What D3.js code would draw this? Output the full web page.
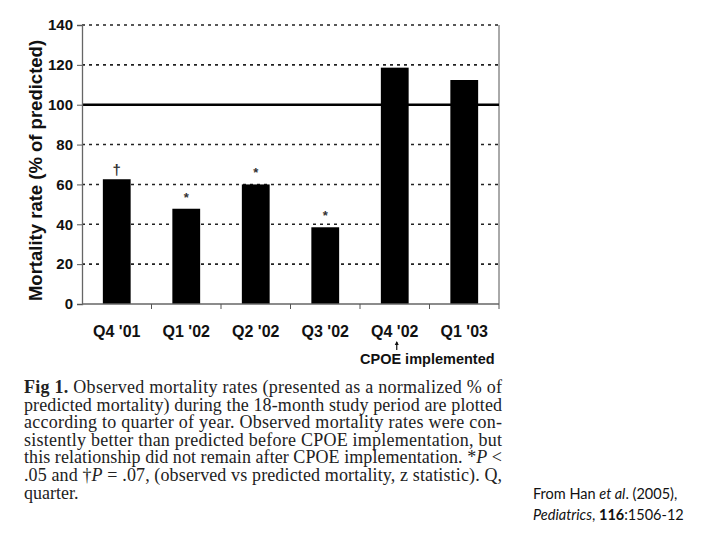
<!DOCTYPE html>
<html>
<head>
<meta charset="utf-8">
<title>Mortality rate by quarter</title>
<style>
  body { margin: 0; background: #fff; }
  svg text { font-family: "Liberation Sans", Arial, sans-serif; }
</style>
</head>
<body>
<script src="https://d3js.org/d3.v7.min.js"></script>
<script>
// data
var quarters = ["Q4 '01", "Q1 '02", "Q2 '02", "Q3 '02", "Q4 '02", "Q1 '03"];
var mortality = [62.6, 47.8, 60, 38.5, 118.6, 112.4];
var marks = ["\u2020", "*", "*", "*", "", ""];
var yTicks = [0, 20, 40, 60, 80, 100, 120, 140];
var reference = 100;

const W = 720, H = 540;
const plot = { left: 82, right: 499, top: 25, bottom: 304 };

const svg = d3.select("body").append("svg")
    .attr("width", W)
    .attr("height", H);

var x = d3.scaleBand()
    .domain(quarters)
    .range([plot.left, plot.right])
    .paddingInner(0.6)
    .paddingOuter(0.3);

var y = d3.scaleLinear()
    .domain([0, 140])
    .range([plot.bottom, plot.top]);

// dotted grid
svg.append("g")
    .selectAll("line")
    .data(yTicks.filter(function(d) { return d > 0 && d !== reference; }))
    .enter().append("line")
    .attr("x1", plot.left).attr("x2", plot.right)
    .attr("y1", function(d) { return y(d); })
    .attr("y2", function(d) { return y(d); })
    .attr("stroke", "#222")
    .attr("stroke-width", 1.6)
    .attr("stroke-dasharray", "3,4");

// right border
svg.append("line")
    .attr("x1", plot.right).attr("x2", plot.right)
    .attr("y1", y(140)).attr("y2", y(0))
    .attr("stroke", "#555").attr("stroke-width", 1);

// 100% reference line
svg.append("line")
    .attr("x1", plot.left).attr("x2", plot.right)
    .attr("y1", y(reference)).attr("y2", y(reference))
    .attr("stroke", "#000").attr("stroke-width", 2.6);

// bars
svg.append("g")
    .selectAll("rect")
    .data(mortality)
    .enter().append("rect")
    .attr("x", function(d, i) { return x(quarters[i]); })
    .attr("y", function(d) { return y(d); })
    .attr("width", x.bandwidth())
    .attr("height", function(d) { return y(0) - y(d); })
    .attr("fill", "#000");

// significance marks
svg.append("g")
    .selectAll("text")
    .data(marks)
    .enter().append("text")
    .attr("x", function(d, i) { return x(quarters[i]) + x.bandwidth() / 2; })
    .attr("y", function(d, i) { return y(mortality[i]) - (d === "*" ? 7 : 4); })
    .attr("text-anchor", "middle")
    .attr("font-size", function(d) { return d === "*" ? 13 : 15; })
    .attr("font-weight", "bold")
    .attr("fill", "#333")
    .text(function(d) { return d; });

// y axis
var yAxis = svg.append("g")
    .attr("transform", "translate(" + plot.left + ",0)")
    .call(d3.axisLeft(y).tickValues(yTicks).tickSize(5).tickPadding(4));
yAxis.select(".domain").attr("stroke", "#666").attr("stroke-width", 1.3);
yAxis.selectAll(".tick line").attr("stroke", "#555");
yAxis.selectAll(".tick text")
    .attr("font-size", 15).attr("font-weight", "bold")
    .attr("font-family", "Liberation Sans, Arial, sans-serif")
    .attr("fill", "#111");

// x axis: ticks between bands, labels centred under bars
var step = x.step();
var bounds = quarters.map(function(q) { return x(q) + x.bandwidth() + step * x.paddingInner() / 2; });
var xAxis = svg.append("g");
xAxis.append("line")
    .attr("x1", plot.left).attr("x2", plot.right)
    .attr("y1", y(0)).attr("y2", y(0))
    .attr("stroke", "#666").attr("stroke-width", 1.3);
xAxis.selectAll("line.tk")
    .data(bounds)
    .enter().append("line")
    .attr("class", "tk")
    .attr("x1", function(d) { return d; }).attr("x2", function(d) { return d; })
    .attr("y1", y(0)).attr("y2", y(0) + 5)
    .attr("stroke", "#555");
xAxis.selectAll("text")
    .data(quarters)
    .enter().append("text")
    .attr("x", function(d) { return x(d) + x.bandwidth() / 2; })
    .attr("y", 337)
    .attr("text-anchor", "middle")
    .attr("font-size", 16).attr("font-weight", "bold")
    .attr("fill", "#111")
    .text(function(d) { return d; });

// CPOE annotation: small arrow under Q4 '02, label to its right
var cx = x(quarters[4]) + x.bandwidth() / 2 + 2;
svg.append("line")
    .attr("x1", cx).attr("x2", cx)
    .attr("y1", 342).attr("y2", 350)
    .attr("stroke", "#111").attr("stroke-width", 1.2);
svg.append("path")
    .attr("d", "M" + (cx - 2) + ",345 L" + cx + ",341 L" + (cx + 2) + ",345 Z")
    .attr("fill", "#111");
svg.append("text")
    .attr("x", 360).attr("y", 364)
    .attr("font-size", 14.5).attr("font-weight", "bold")
    .attr("fill", "#111")
    .text("CPOE implemented");

// y title
svg.append("text")
    .attr("transform", "translate(42," + ((plot.top + plot.bottom) / 2 + 6) + ") rotate(-90)")
    .attr("text-anchor", "middle")
    .attr("font-size", 18.5).attr("font-weight", "bold")
    .attr("fill", "#111")
    .text("Mortality rate (% of predicted)");

// caption
var captionLines = [
  [["Fig 1.", "b"], [" Observed mortality rates (presented as a normalized % of", ""]],
  [["predicted mortality) during the 18-month study period are plotted", ""]],
  [["according to quarter of year. Observed mortality rates were con-", ""]],
  [["sistently better than predicted before CPOE implementation, but", ""]],
  [["this relationship did not remain after CPOE implementation. *", ""], ["P", "i"], [" <", ""]],
  [[".05 and \u2020", ""], ["P", "i"], [" = .07, (observed vs predicted mortality, z statistic). Q,", ""]],
  [["quarter.", ""]]
];
var cap = svg.append("g");
captionLines.forEach(function(line, i) {
  var t = cap.append("text")
      .attr("x", 24)
      .attr("y", 393 + i * 17.6)
      .attr("font-family", "Liberation Serif, 'DejaVu Serif', serif")
      .attr("font-size", 18)
      .attr("fill", "#222")
      .attr("xml:space", "preserve");
  if (i < captionLines.length - 1) {
    t.attr("textLength", 478).attr("lengthAdjust", "spacing");
  }
  line.forEach(function(seg) {
    t.append("tspan")
        .attr("font-family", "Liberation Serif, 'DejaVu Serif', serif")
        .attr("font-weight", seg[1] === "b" ? "bold" : null)
        .attr("font-style", seg[1] === "i" ? "italic" : null)
        .text(seg[0]);
  });
});

// citation
var cite1 = svg.append("text").attr("x", 533).attr("y", 499)
    .attr("font-family", "Lato, 'Open Sans', sans-serif").attr("font-size", 14.5).attr("fill", "#111");
cite1.append("tspan").attr("font-family", "Lato, sans-serif").text("From Han ");
cite1.append("tspan").attr("font-family", "Lato, sans-serif").attr("font-style", "italic").text("et al");
cite1.append("tspan").attr("font-family", "Lato, sans-serif").text(". (2005),");
var cite2 = svg.append("text").attr("x", 533).attr("y", 520)
    .attr("font-family", "Lato, 'Open Sans', sans-serif").attr("font-size", 14.5).attr("fill", "#111");
cite2.append("tspan").attr("font-family", "Lato, sans-serif").attr("font-style", "italic").text("Pediatrics");
cite2.append("tspan").attr("font-family", "Lato, sans-serif").text(", ");
cite2.append("tspan").attr("font-family", "Lato, sans-serif").attr("font-weight", "bold").text("116");
cite2.append("tspan").attr("font-family", "Lato, sans-serif").text(":1506-12");
</script>
</body>
</html>
